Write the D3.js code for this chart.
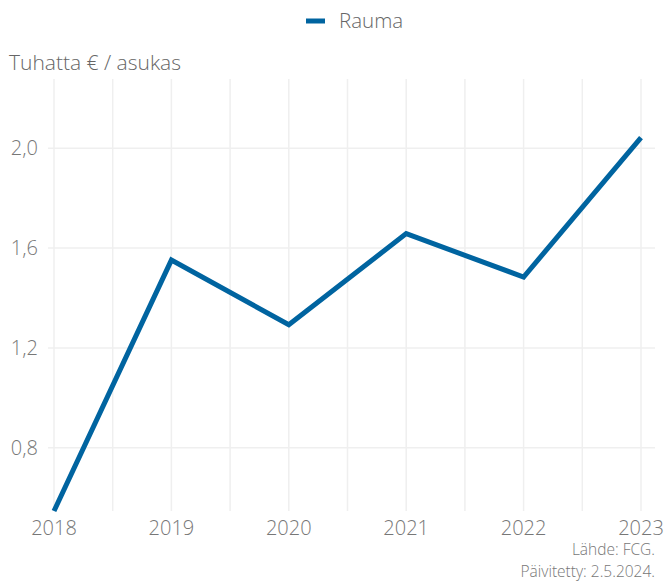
<!DOCTYPE html>
<html>
<head>
<meta charset="utf-8">
<script src="https://cdn.jsdelivr.net/npm/d3@7"></script>
<style>
	body { margin: 0; background: #fff; }
	text { font-family: "Open Sans", sans-serif; font-weight: 300; }
</style>
</head>
<body>
<div id="chart"></div>
<script>
// data
var years = [2018, 2019, 2020, 2021, 2022, 2023];
var rauma = [0.546, 1.552, 1.293, 1.658, 1.484, 2.043];
var yTicks = [0.8, 1.2, 1.6, 2.0];
var seriesName = "Rauma";
var yTitle = "Tuhatta € / asukas";
var sourceLines = ["Lähde: FCG.", "Päivitetty: 2.5.2024."];

var svgWidth = 666;
var svgHeight = 581;

var margin = { top: 79, right: 25, bottom: 70, left: 54 };
var width = 641 - margin.left;
var height = 511 - margin.top;

var svg = d3.select("#chart")
	.append("svg")
	.attr("width", svgWidth)
	.attr("height", svgHeight);

var chartGroup = svg.append("g")
	.attr("transform", `translate(${margin.left}, ${margin.top})`);

var xScale = d3.scaleLinear()
	.domain([2018, 2023])
	.range([0, width]);

var yScale = d3.scaleLinear()
	.domain([0.546, 2.278])
	.range([height, 0]);

// vertical grid at every half year
var halfYears = d3.range(2018, 2023.01, 0.5);
chartGroup.append("g")
	.selectAll("line")
	.data(halfYears)
	.enter()
	.append("line")
	.attr("x1", d => xScale(d))
	.attr("x2", d => xScale(d))
	.attr("y1", 0)
	.attr("y2", height)
	.attr("stroke", "#efefef")
	.attr("stroke-width", 1.5);

// horizontal grid
chartGroup.append("g")
	.selectAll("line")
	.data(yTicks)
	.enter()
	.append("line")
	.attr("x1", -6)
	.attr("x2", 601)
	.attr("y1", d => yScale(d))
	.attr("y2", d => yScale(d))
	.attr("stroke", "#efefef")
	.attr("stroke-width", 1.5);

// y labels
chartGroup.append("g")
	.selectAll("text")
	.data(yTicks)
	.enter()
	.append("text")
	.attr("x", -16)
	.attr("y", d => yScale(d))
	.attr("dy", "0.35em")
	.attr("text-anchor", "end")
	.attr("fill", "#777")
	.attr("font-size", 20)
	.text(d => d3.format(".1f")(d).replace(".", ","));

// x labels
chartGroup.append("g")
	.selectAll("text")
	.data(years)
	.enter()
	.append("text")
	.attr("x", d => xScale(d))
	.attr("y", height + 24)
	.attr("text-anchor", "middle")
	.attr("fill", "#777")
	.attr("font-size", 20)
	.text(d => d);

// the line
var line = d3.line()
	.x((d, i) => xScale(years[i]))
	.y(d => yScale(d));

chartGroup.append("path")
	.datum(rauma)
	.attr("d", line)
	.attr("fill", "none")
	.attr("stroke", "#0064a0")
	.attr("stroke-width", 5);

// y title
svg.append("text")
	.attr("x", 9)
	.attr("y", 70)
	.attr("fill", "#666")
	.attr("font-size", 21)
	.text(yTitle);

// legend
var legend = svg.append("g")
	.attr("transform", "translate(306, 21)");
legend.append("line")
	.attr("x1", 0)
	.attr("x2", 19)
	.attr("stroke", "#0064a0")
	.attr("stroke-width", 5);
legend.append("text")
	.attr("x", 33)
	.attr("dy", "0.35em")
	.attr("fill", "#666")
	.attr("font-size", 20.5)
	.text(seriesName);

// source, two lines
svg.append("g")
	.selectAll("text")
	.data(sourceLines)
	.enter()
	.append("text")
	.attr("x", 655)
	.attr("y", (d, i) => 555 + i * 22)
	.attr("text-anchor", "end")
	.attr("fill", "#777")
	.attr("font-size", 15.5)
	.text(d => d);
</script>
</body>
</html>
